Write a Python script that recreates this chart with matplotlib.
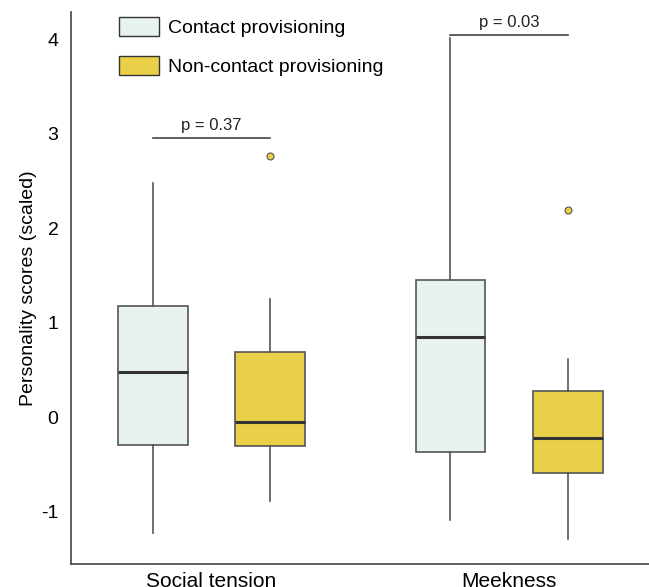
import matplotlib
matplotlib.use("Agg")
import matplotlib.pyplot as plt
from matplotlib.patches import Patch

plt.rcParams['font.family'] = ['Liberation Sans', 'DejaVu Sans']

categories = ["Social tension", "Meekness"]
groups = ["Contact provisioning", "Non-contact provisioning"]

contact_whislo = [-1.23, -1.09]
contact_q1 = [-0.30, -0.37]
contact_med = [0.48, 0.85]
contact_q3 = [1.18, 1.45]
contact_whishi = [2.48, 4.01]
contact_fliers = [[], []]

noncontact_whislo = [-0.89, -1.29]
noncontact_q1 = [-0.31, -0.59]
noncontact_med = [-0.05, -0.22]
noncontact_q3 = [0.69, 0.28]
noncontact_whishi = [1.25, 0.62]
noncontact_fliers = [[2.77], [2.19]]

p_labels = ["p = 0.37", "p = 0.03"]
p_heights = [2.96, 4.05]

yticks = [-1, 0, 1, 2, 3, 4]

colors = ["#E8F2F0", "#EACF48"]
edge = "#555555"

fig = plt.figure(figsize=(6.49, 5.87), dpi=100)
ax = fig.add_axes([71/649, 1 - 564/587, 1 - 71/649, (564 - 12)/587])

offset = 0.197
width = 0.235

def make_stats(wlo, q1, med, q3, whi, fl):
    return [dict(whislo=a, q1=b, med=c, q3=d, whishi=e, fliers=f)
            for a, b, c, d, e, f in zip(wlo, q1, med, q3, whi, fl)]

series = [
    make_stats(contact_whislo, contact_q1, contact_med, contact_q3, contact_whishi, contact_fliers),
    make_stats(noncontact_whislo, noncontact_q1, noncontact_med, noncontact_q3, noncontact_whishi, noncontact_fliers),
]

for si, stats in enumerate(series):
    pos = [i + (-offset if si == 0 else offset) for i in range(len(categories))]
    ax.bxp(stats, positions=pos, widths=width, patch_artist=True, showcaps=False,
           boxprops=dict(facecolor=colors[si], edgecolor=edge, linewidth=1.2),
           medianprops=dict(color="#333333", linewidth=2.2),
           whiskerprops=dict(color=edge, linewidth=1.2),
           flierprops=dict(marker='o', markerfacecolor=colors[1], markeredgecolor=edge,
                           markersize=5, markeredgewidth=0.8),
           manage_ticks=False)

for i, (lab, h) in enumerate(zip(p_labels, p_heights)):
    ax.plot([i - offset, i + offset], [h, h], color="#444444", linewidth=1.2)
    ax.annotate(lab, xy=(i, h), xytext=(0, 3), textcoords='offset points',
                ha='center', va='bottom', fontsize=12, color="#222222")

ax.set_xlim(-0.472, 1.47)
ax.set_ylim(-1.555, 4.29)
ax.set_xticks(range(len(categories)))
ax.set_xticklabels(categories, fontsize=15)
ax.set_yticks(yticks)
ax.set_yticklabels([str(t) for t in yticks], fontsize=14)
ax.tick_params(axis='both', length=0)
ax.tick_params(axis='y', pad=9)
ax.tick_params(axis='x', pad=6)
ax.set_ylabel("Personality scores (scaled)", fontsize=14, labelpad=3)

for s in ["top", "right"]:
    ax.spines[s].set_visible(False)
for s in ["left", "bottom"]:
    ax.spines[s].set_color("#444444")
    ax.spines[s].set_linewidth(1.2)

handles = [Patch(facecolor=c, edgecolor="#333333", linewidth=1.0) for c in colors]
fig.legend(handles, groups, loc='upper left', bbox_to_anchor=(119/649, 1 - 17/587),
           frameon=False, fontsize=14, handlelength=2.06, handleheight=1.15,
           handletextpad=0.45, labelspacing=0.95, borderpad=0, borderaxespad=0)

fig.savefig("out.png", dpi=100)
